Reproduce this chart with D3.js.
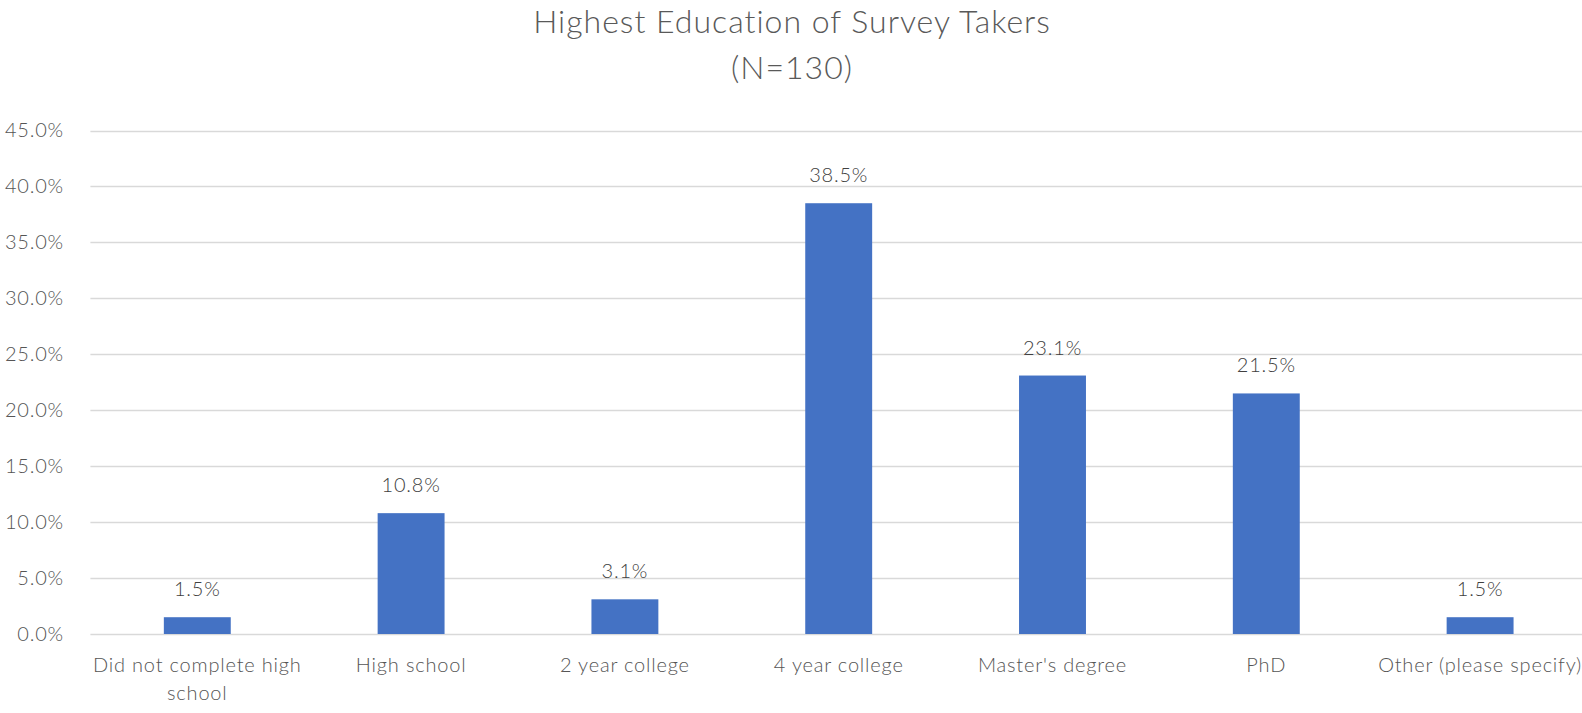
<!DOCTYPE html>
<html>
<head>
<meta charset="utf-8">
<script src="https://cdn.jsdelivr.net/npm/d3@7"></script>
<style>
  html, body { margin: 0; padding: 0; background: #fff; }
  svg { display: block; }
  text { font-family: Lato, "Open Sans", sans-serif; }
</style>
</head>
<body>
<svg id="chart" width="1582" height="713"></svg>
<script>
const categories = ["Did not complete high school", "High school", "2 year college", "4 year college", "Master's degree", "PhD", "Other (please specify)"];
const values = [1.5, 10.8, 3.1, 38.5, 23.1, 21.5, 1.5];
const yTicks = [0, 5, 10, 15, 20, 25, 30, 35, 40, 45];
const titleLines = ["Highest Education of Survey Takers", "(N=130)"];

const W = 1582, H = 713;
const margin = { left: 90.4, right: -5, top: 130.5, bottom: 79 };
const svg = d3.select("#chart");

const x = d3.scaleBand()
  .domain(categories)
  .range([margin.left, W - margin.right])
  .paddingInner(0.687)
  .paddingOuter(0.3435);

const y = d3.scaleLinear()
  .domain([0, 45])
  .range([H - margin.bottom, margin.top]);

// Title
svg.append("g").selectAll("text")
  .data(titleLines)
  .join("text")
  .attr("x", 792)
  .attr("y", (d, i) => 33 + i * 46)
  .attr("text-anchor", "middle")
  .attr("font-size", 32)
  .attr("font-weight", 300)
  .attr("letter-spacing", 1)
  .attr("fill", "#595959")
  .text(d => d);

// Gridlines
svg.append("g").selectAll("line")
  .data(yTicks)
  .join("line")
  .attr("x1", margin.left)
  .attr("x2", W)
  .attr("y1", d => Math.round(y(d)) + 0.5)
  .attr("y2", d => Math.round(y(d)) + 0.5)
  .attr("stroke", "#d9d9d9")
  .attr("stroke-width", 1.5);

// Y axis
const yAxis = d3.axisLeft(y)
  .tickValues(yTicks)
  .tickFormat(d => d3.format(".1f")(d) + "%")
  .tickSize(0)
  .tickPadding(0);
const yg = svg.append("g")
  .attr("transform", `translate(${64},0)`)
  .call(yAxis);
yg.select(".domain").remove();
yg.selectAll("text")
  .attr("font-size", 20)
  .attr("font-family", "Lato, sans-serif")
  .attr("font-weight", 300)
  .attr("letter-spacing", 0.8)
  .attr("fill", "#555555");

// Bars
svg.append("g").selectAll("rect")
  .data(values)
  .join("rect")
  .attr("x", (d, i) => x(categories[i]))
  .attr("width", x.bandwidth())
  .attr("y", d => y(d))
  .attr("height", d => y(0) - y(d))
  .attr("fill", "#4472c4");

// Data labels
svg.append("g").selectAll("text")
  .data(values)
  .join("text")
  .attr("x", (d, i) => x(categories[i]) + x.bandwidth() / 2)
  .attr("y", d => y(d) - 21)
  .attr("text-anchor", "middle")
  .attr("font-size", 20)
  .attr("font-weight", 300)
  .attr("letter-spacing", 0.8)
  .attr("fill", "#404040")
  .text(d => d3.format(".1f")(d) + "%");

// X axis
const xAxis = d3.axisBottom(x).tickSize(0).tickPadding(0);
const xg = svg.append("g")
  .attr("transform", `translate(0,${y(0)})`)
  .call(xAxis);
xg.select(".domain").remove();
xg.selectAll("text")
  .attr("font-size", 20)
  .attr("font-family", "Lato, sans-serif")
  .attr("font-weight", 300)
  .attr("letter-spacing", 0.8)
  .attr("fill", "#555555")
  .attr("dy", null)
  .attr("y", 0)
  .each(function (d) {
    const t = d3.select(this);
    const words = d.split(" ");
    t.text(null);
    const maxW = 240;
    let lines = [], cur = [];
    let tsp = t.append("tspan");
    words.forEach(w => {
      cur.push(w);
      tsp.text(cur.join(" "));
      if (tsp.node().getComputedTextLength() > maxW && cur.length > 1) {
        cur.pop();
        lines.push(cur.join(" "));
        cur = [w];
      }
    });
    lines.push(cur.join(" "));
    t.text(null);
    lines.forEach((ln, i) => {
      t.append("tspan").attr("x", 0).attr("y", 38 + i * 28).text(ln);
    });
  });
</script>
</body>
</html>
